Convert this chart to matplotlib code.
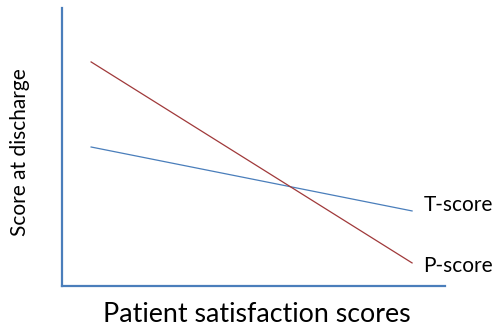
import matplotlib
matplotlib.use("Agg")
import matplotlib.pyplot as plt

x_vals = [0.76, 9.14]
p_score = [8.06, 0.83]
t_score = [5.0, 2.70]
series_labels = ["T-score", "P-score"]
x_label = "Patient satisfaction scores"
y_label = "Score at discharge"

W, H = 496, 331
fig = plt.figure(figsize=(W/100, H/100), dpi=100)
ax = fig.add_axes([62/W, (H-286)/H, (445-62)/W, (286-8)/H])
ax.set_xlim(0, 10)
ax.set_ylim(0, 10)

ax.plot(x_vals, t_score, color="#4A7EBB", lw=0.9)
ax.plot(x_vals, p_score, color="#A0393A", lw=0.9)

ax.text(x_vals[-1] + 0.3, t_score[-1] + 0.2, series_labels[0], fontsize=15,
        family="Lato", va="center", ha="left")
ax.text(x_vals[-1] + 0.3, p_score[-1] - 0.1, series_labels[1], fontsize=15,
        family="Lato", va="center", ha="left")

for s in ["top", "right"]:
    ax.spines[s].set_visible(False)
for s in ["left", "bottom"]:
    ax.spines[s].set_color("#4A7EBB")
    ax.spines[s].set_linewidth(1.6)
ax.set_xticks([])
ax.set_yticks([])

fig.text(257/W, 1 - 315/H, x_label, fontsize=19.3, family="Lato",
         ha="center", va="center")
fig.text(20/W, 1 - 152/H, y_label, fontsize=15, family="Lato",
         ha="center", va="center", rotation=90)

fig.savefig("out.png", dpi=100)
